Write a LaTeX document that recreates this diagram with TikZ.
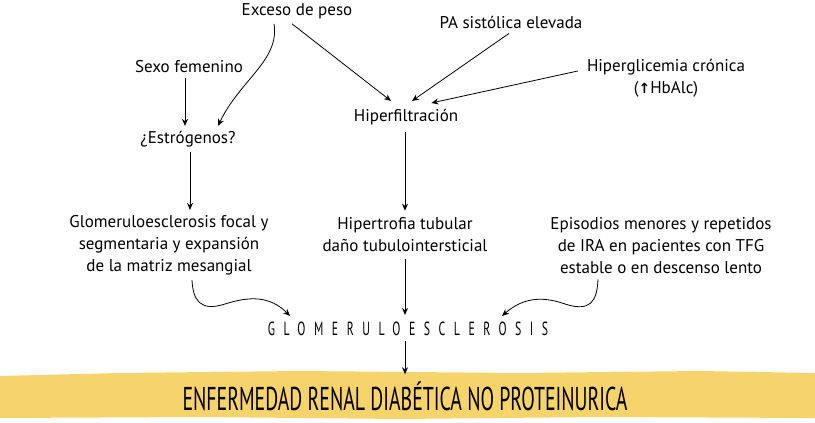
\documentclass[tikz,border=0pt]{standalone}
\usepackage{fontspec}
\setmainfont{PT Sans}
\newfontfamily\titlefont[FakeStretch=0.6]{PT Sans}
\newfontfamily\spacedfont[FakeStretch=0.62,LetterSpace=45]{PT Sans}
\newfontfamily\symfont{DejaVu Sans}
\usepackage{xcolor}
\usetikzlibrary{arrows.meta, calc}

\definecolor{bandyellow}{HTML}{F7D36B}

\begin{document}
\begin{tikzpicture}[x=1pt,y=-1pt,
	every node/.style={font=\fontsize{17}{22}\selectfont, align=center, inner sep=1pt},
	link/.style={-{Stealth[length=7pt,width=6pt]}, line width=0.8pt}]
	\useasboundingbox (0,0) rectangle (815,423);
	% yellow band
	\fill[bandyellow] (0,376) -- (120,373) -- (300,371) -- (520,373) -- (700,371) -- (815,373)
		-- (815,418) -- (600,417) -- (400,419) -- (200,417) -- (0,418) -- cycle;
	% causes
	\node (exceso) at (297,11) {Exceso de peso};
	\node (pa) at (511,22) {PA sistólica elevada};
	\node (sexo) at (189,67) {Sexo femenino};
	\node (gluc) at (666,78) {Hiperglicemia crónica\\({\symfont\bfseries\fontsize{14}{14}\selectfont ↑}HbAlc)};
	% middle level
	\node (estro) at (188,139) {¿Estrógenos?};
	\node (hiper) at (406,117) {Hiperfiltración};
	% lesions
	\node (focal) at (169,245) {Glomeruloesclerosis focal y\\segmentaria y expansión\\de la matriz mesangial};
	\node (tubular) at (405,235) {Hipertrofia tubular\\daño tubulointersticial};
	\node (ira) at (661,246) {Episodios menores y repetidos\\de IRA en pacientes con TFG\\estable o en descenso lento};
	% result
	\node[font=\spacedfont\fontsize{19}{19}\selectfont] (glom) at (408,329) {GLOMERULOESCLEROSIS};
	\node[font=\titlefont\fontsize{33}{33}\selectfont] (erd) at (405,396) {ENFERMEDAD RENAL DIABÉTICA NO PROTEINURICA};
	% arrows
	\draw[link] (sexo.south) ++(-4,4) -- ($(estro.north)+(-3,-4)$);
	\draw[link] ($(exceso.south)+(-23,4)$) .. controls (280,60) and (240,80) .. ($(estro.north)+(30,-4)$);
	\draw[link] ($(exceso.south)+(-5,4)$) -- ($(hiper.north)+(-15,-7)$);
	\draw[link] ($(pa.south)+(-2,4)$) -- ($(hiper.north)+(6,-7)$);
	\draw[link] ($(gluc.west)+(-8,-7)$) -- ($(hiper.north east)+(-28,-5)$);
	\draw[link] ($(estro.south)+(2,4)$) -- ($(focal.north)+(21,-4)$);
	\draw[link] ($(hiper.south)+(-1,6)$) -- ($(tubular.north)+(0,-6)$);
	\draw[link] ($(tubular.south)+(0,6)$) -- ($(glom.north)+(-3,-6)$);
	\draw[link] ($(focal.south)+(23,4)$) .. controls (193,300) and (200,312) .. (225,304)
		.. controls (250,296) and (270,296) .. ($(glom.north)+(-118,-5)$);
	\draw[link] ($(ira.south)+(-63,4)$) .. controls (597,302) and (590,312) .. (565,304)
		.. controls (545,297) and (525,296) .. ($(glom.north)+(94,-5)$);
	\draw[link] ($(glom.south)+(-3,4)$) -- ($(erd.north)+(0,-6)$);
\end{tikzpicture}
\end{document}
